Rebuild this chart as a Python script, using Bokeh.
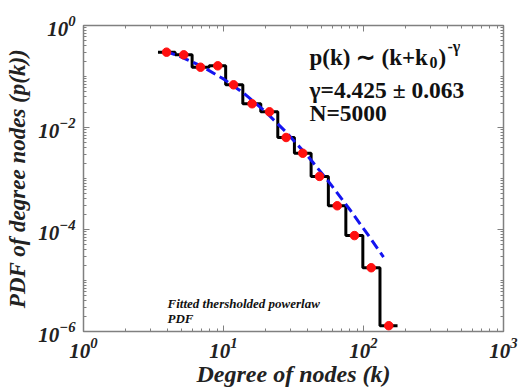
import numpy as np
from bokeh.plotting import figure
from bokeh.models import FixedTicker, LogAxis, Label
from bokeh.embed import file_html
from bokeh.resources import INLINE

# ---- data ----
degree_k = [3.92, 5.2, 6.85, 9.1, 11.8, 16.0, 21.3, 28.0, 36.8, 48.5, 64.9, 86.2, 113.5, 151.5]
pdf_pk = [0.30, 0.266, 0.152, 0.162, 0.0687, 0.0292, 0.0203, 0.00637, 0.00313, 0.0011,
          2.92e-4, 7.6e-5, 1.78e-5, 1.3e-6]
fit_k = [3.85, 5, 7, 10, 14, 20, 28, 40, 56, 80, 110, 139]
fit_p = [0.313, 0.241, 0.158, 0.0897, 0.0466, 0.0202, 0.00814, 0.00274, 8.85e-4,
         2.44e-4, 7.24e-5, 2.88e-5]
x_ticks = [1, 10, 100, 1000]
y_ticks = [1e-6, 1e-4, 1e-2, 1]

# ---- stair path (centered steps between log-spaced bins) ----
lk = np.log10(np.array(degree_k))
mids = (lk[:-1] + lk[1:]) / 2
edges = np.concatenate([[lk[0] - (lk[1] - lk[0]) / 2], mids, [lk[-1] + (lk[-1] - lk[-2]) / 2]])
sx, sy = [], []
for i, v in enumerate(pdf_pk):
    sx += [10 ** edges[i], 10 ** edges[i + 1]]
    sy += [v, v]

FONT = "Liberation Serif"
GRAY = "#808080"

p = figure(width=519, height=390, x_axis_type="log", y_axis_type="log",
           x_range=(1, 1000), y_range=(1e-6, 1),
           output_backend="svg", toolbar_location=None,
           min_border_left=83, min_border_right=16, min_border_top=25, min_border_bottom=59)
p.xgrid.visible = False
p.ygrid.visible = False
p.outline_line_color = GRAY
p.outline_line_width = 1.5

x_minor = [m * 10 ** e for e in range(0, 3) for m in range(2, 10)]
y_minor = [m * 10 ** e for e in range(-6, 0) for m in range(1, 10) if not (m == 1 and e % 2 == 0)]

def style_axis(ax, ticks, minor, labels=True):
    ax.ticker = FixedTicker(ticks=ticks, minor_ticks=minor)
    ax.axis_line_color = GRAY
    ax.major_tick_line_color = GRAY
    ax.minor_tick_line_color = GRAY
    ax.major_tick_in = 6
    ax.major_tick_out = 0
    ax.minor_tick_in = 3
    ax.minor_tick_out = 0
    if labels:
        ax.major_label_text_font = FONT
        ax.major_label_text_font_style = "bold italic"
        ax.major_label_text_font_size = "21px"
        ax.major_label_text_color = "#222222"
        ax.axis_label_text_font = FONT
        ax.axis_label_text_font_style = "bold italic"
        ax.axis_label_text_font_size = "23px"
        ax.axis_label_text_color = "#222222"
    else:
        ax.major_label_text_font_size = "1px"
        ax.major_label_text_alpha = 0
        ax.major_label_standoff = 0

style_axis(p.xaxis[0], x_ticks, x_minor)
style_axis(p.yaxis[0], y_ticks, y_minor)
p.xaxis[0].axis_label = "Degree of nodes (k)"
p.xaxis[0].axis_label_text_font_size = "24px"
p.yaxis[0].axis_label = "PDF of degree nodes (p(k))"
p.xaxis[0].major_label_standoff = 6
p.xaxis[0].axis_label_standoff = 0
p.yaxis[0].major_label_standoff = 8
p.yaxis[0].axis_label_standoff = 5

top_ax = LogAxis()
right_ax = LogAxis()
style_axis(top_ax, x_ticks, x_minor, labels=False)
style_axis(right_ax, y_ticks, y_minor, labels=False)
p.add_layout(top_ax, "above")
p.add_layout(right_ax, "right")

# ---- glyphs ----
p.line(sx, sy, line_color="black", line_width=3)
p.line(fit_k, fit_p, line_color="#1414f0", line_width=3, line_dash="10 5")
p.scatter(degree_k, pdf_pk, size=8.5, fill_color="#ff1010", line_color="#ff1010")

# ---- annotations (positions given in pixels of the frame) ----
def kx(px):
    return 10 ** ((px - 83) / 140)

def py(pyv):
    return 10 ** (-(pyv - 25) / 51)

def add_text(txt, px, pyv, size, style="bold", align="left"):
    p.add_layout(Label(x=kx(px), y=py(pyv), text=txt, text_font=FONT,
                       text_font_style=style, text_font_size=size,
                       text_color="#111111", text_baseline="alphabetic",
                       text_align=align))

add_text("p(k) \u223c", 309, 57, "23px")
add_text("(k+k", 381, 57, "23px")
add_text("0", 429, 62, "16px")
add_text(")", 438, 57, "23px")
add_text("-\u03b3", 447, 46, "16px")
add_text("\u03b3=4.425 \u00b1 0.063", 309, 89, "23.5px")
add_text("N=5000", 309, 112, "23.5px")
add_text("Fitted thersholded powerlaw", 167, 303, "13px", style="bold italic")
add_text("PDF", 167, 318, "13px", style="bold italic")

open("out.html", "w").write(file_html(p, INLINE))
